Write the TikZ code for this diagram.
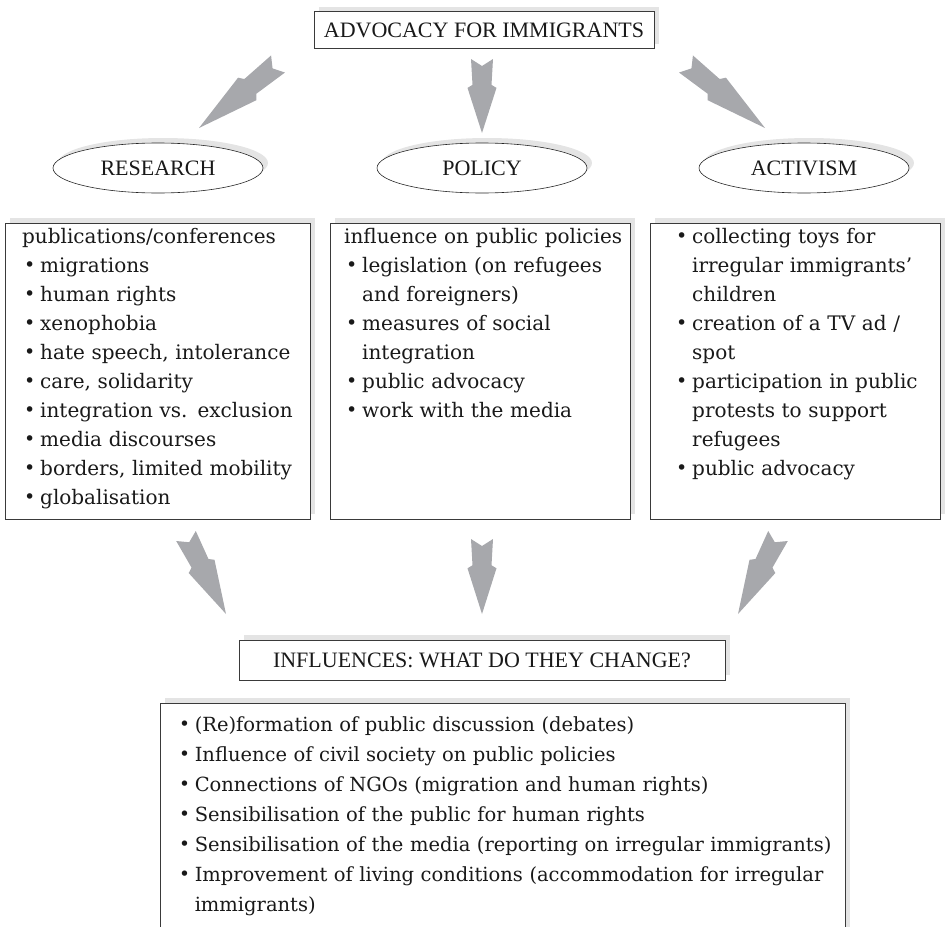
\documentclass[tikz,border=0pt]{standalone}
\usepackage{fontspec}
\setmainfont{DejaVu Serif}
\newfontfamily\headfont{Liberation Serif}
\usepackage{xcolor}
\usepackage{graphicx}
\usepackage{tikz}
\usetikzlibrary{shapes.geometric,shadows,calc,positioning}
\setlength{\parindent}{0pt}

\definecolor{arrowgray}{HTML}{A7A8AC}
\definecolor{shadegray}{HTML}{E4E4E4}
\definecolor{framegray}{HTML}{3A3A3A}

\newcommand{\bulmark}{\hspace*{0.1em}\makebox[0.8em][l]{\raisebox{0.05ex}{\scalebox{0.95}{\textbullet}}}}
\newcommand{\firstbul}{\hangindent=0.9em\hangafter=1\noindent\bulmark}
\newcommand{\bul}{\par\firstbul}

% fat grey arrow from tail #1 to tip #2
\newcommand{\fatarrow}[2]{%
  \fill[arrowfill] ($(#1)!11pt!90:(#2)$) -- ($(#1)!7pt!(#2)$) -- ($(#1)!11pt!-90:(#2)$)
    -- ($(#1)!0.35!(#2)!9.5pt!-90:(#2)$) -- ($(#1)!0.39!(#2)!14.5pt!-90:(#2)$)
    -- (#2)
    -- ($(#1)!0.39!(#2)!14.5pt!90:(#2)$) -- ($(#1)!0.35!(#2)!9.5pt!90:(#2)$) -- cycle;}

\begin{document}
\begin{tikzpicture}[x=1pt,y=-1pt,
    every node/.style={text=black!90},
    framed/.style={draw=framegray, line width=0.8pt, fill=white},
    shadowed/.style={drop shadow={shadow xshift=5pt, shadow yshift=5pt, fill=shadegray, opacity=1}},
    headbox/.style={framed, shadowed, inner sep=0pt, font=\headfont\fontsize{22}{26}\selectfont},
    oval/.style={ellipse, framed, draw=black!85, line width=0.6pt, shadowed, minimum width=210pt,
        minimum height=50pt, inner sep=0pt, font=\headfont\fontsize{22}{26}\selectfont},
    listbox/.style={framed, shadowed, anchor=north west, inner sep=0pt},
    listtext/.style={anchor=north west, align=left, inner sep=0pt, font=\fontsize{20}{29}\selectfont},
    arrowfill/.style={fill=arrowgray}]
    \useasboundingbox (0,0) rectangle (950,926);

    % headings
    \node[headbox, minimum width=340pt, minimum height=37pt] (adv) at (484,30) {ADVOCACY FOR IMMIGRANTS};
    \node[oval] (res) at (158,168) {RESEARCH};
    \node[oval] (pol) at (482,168) {POLICY};
    \node[oval] (act) at (804,168) {ACTIVISM};

    % the three lists
    \node[listbox, minimum width=305pt, minimum height=296pt] (resbox) at (5,223) {};
    \node[listbox, minimum width=300pt, minimum height=296pt] (polbox) at (330,223) {};
    \node[listbox, minimum width=290pt, minimum height=296pt] (actbox) at (650,223) {};

    \node[listtext, text width=285pt] (restext) at ($(resbox.north west)+(17,5)$) {%
        publications/conferences \bul migrations \bul human rights \bul xenophobia
        \bul hate speech, intolerance \bul care, solidarity \bul integration vs. exclusion
        \bul media discourses \bul borders, limited mobility \bul globalisation\par};
    \node[listtext, text width=285pt] (poltext) at ($(polbox.north west)+(14,5)$) {%
        influence on public policies \bul legislation (on refugees\newline and foreigners)
        \bul measures of social\newline integration \bul public advocacy \bul work with the media\par};
    \node[listtext, text width=260pt] (acttext) at ($(actbox.north west)+(24,5)$) {%
        \firstbul collecting toys for\newline irregular immigrants'\newline children
        \bul creation of a TV ad /\newline spot
        \bul participation in public\newline protests to support\newline refugees \bul public advocacy\par};

    % influences
    \node[headbox, minimum width=486pt, minimum height=40pt] (infl) at (482,660) {INFLUENCES: WHAT DO THEY CHANGE?};
    \node[listbox, minimum width=685pt, minimum height=260pt] (chgbox) at (160,703) {};
    \node[listtext, text width=670pt, font=\fontsize{19.5}{30}\selectfont] (chgtext) at ($(chgbox.north west)+(17,13)$) {%
        \firstbul (Re)formation of public discussion (debates)
        \bul Influence of civil society on public policies
        \bul Connections of NGOs (migration and human rights)
        \bul Sensibilisation of the public for human rights
        \bul Sensibilisation of the media (reporting on irregular immigrants)
        \bul Improvement of living conditions (accommodation for irregular\newline immigrants)\par};

    % arrows
    \coordinate (s1) at (278,64);  \coordinate (e1) at (199,128);
    \coordinate (s2) at (482,59);  \coordinate (e2) at (482,133);
    \coordinate (s3) at (686,64);  \coordinate (e3) at (765,128);
    \coordinate (s4) at (186,536); \coordinate (e4) at (226,614);
    \coordinate (s5) at (482,539); \coordinate (e5) at (482,614);
    \coordinate (s6) at (778,536); \coordinate (e6) at (738,614);
    \foreach \a in {1,...,6} {\fatarrow{s\a}{e\a}}
\end{tikzpicture}
\end{document}
